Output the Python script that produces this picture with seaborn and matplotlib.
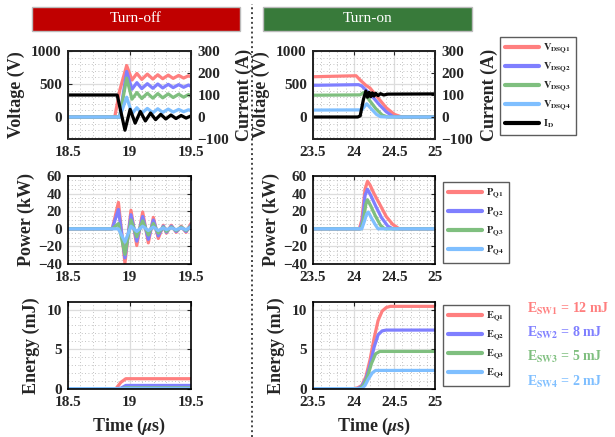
import numpy as np
import pandas as pd
import matplotlib
matplotlib.use('Agg')
import matplotlib.pyplot as plt
import seaborn as sns
from matplotlib.lines import Line2D
from matplotlib.patches import Rectangle
from matplotlib.ticker import MultipleLocator

# ---------------- data ----------------
# Turn-off: drain-source voltages (V)
t_off_v = [18.5, 18.88, 18.92, 18.977, 19.02, 19.06, 19.10, 19.145, 19.19, 19.23,
           19.27, 19.315, 19.355, 19.40, 19.44, 19.48, 19.5]
v1_off = [0, 0, 400, 780, 560, 660, 570, 650, 575, 640, 580, 635, 585, 630, 590, 625, 610]
v2_off = [0, 0, 0, 690, 420, 520, 430, 505, 435, 500, 440, 495, 445, 490, 450, 485, 465]
v3_off = [0, 0, 0, 590, 270, 370, 280, 360, 285, 355, 290, 350, 295, 345, 300, 340, 320]
v4_off = [0, 0, 0, 300, 50, 140, 60, 130, 65, 125, 70, 120, 75, 115, 80, 110, 95]
# Turn-off: drain current (A)
t_off_i = [18.5, 18.90, 18.963, 19.005, 19.046, 19.088, 19.129, 19.171, 19.212, 19.254,
           19.295, 19.337, 19.378, 19.42, 19.46, 19.5]
id_off = [100, 100, -60, 35, -28, 25, -18, 18, -12, 12, -9, 9, -7, 7, -5, 5]
# Turn-off: power (kW)
t_off_p = [18.5, 18.86, 18.91, 18.963, 19.012, 19.059, 19.107, 19.153, 19.194, 19.234,
           19.275, 19.30, 19.34, 19.38, 19.42, 19.46, 19.5]
p1_off = [0, 0, 30, -39, 21, -19, 19, -16, 13, -11, 4, -5, 4, -4, 3, -4, 6]
p2_off = [0, 0, 22, -33, 16, -14, 14, -12, 10, -8, 3, -4, 3, -3, 2, -3, 4]
p3_off = [0, 0, 6, -29, 10, -9, 9, -7, 6, -5, 2, -3, 2, -2, 2, -2, 3]
p4_off = [0, 0, 0, -15, 3, -3, 3, -2, 2, -2, 1, -1, 1, -1, 1, -1, 2]
# Turn-off: energy (mJ)
t_off_e = [18.5, 18.89, 18.93, 18.97, 19.5]
e1_off = [0, 0, 0.8, 1.25, 1.25]
e2_off = [0, 0, 0.05, 0.4, 0.4]
e3_off = [0, 0, 0, 0.1, 0.1]
e4_off = [0, 0, 0, 0.02, 0.02]

# Turn-on: voltages (V)
t_on_v1 = [23.5, 24.03, 24.08, 24.15, 24.20, 24.30, 24.40, 24.50, 24.58, 24.65, 25.0]
v1_on = [610, 625, 560, 480, 440, 290, 140, 40, 5, 0, 0]
t_on_v2 = [23.5, 24.06, 24.10, 24.15, 24.23, 24.32, 24.40, 24.48, 24.55, 25.0]
v2_on = [480, 490, 470, 410, 310, 180, 80, 10, 0, 0]
t_on_v3 = [23.5, 24.08, 24.12, 24.19, 24.27, 24.35, 24.42, 25.0]
v3_on = [330, 335, 370, 260, 130, 30, 0, 0]
t_on_v4 = [23.5, 24.10, 24.16, 24.22, 24.28, 24.33, 24.40, 25.0]
v4_on = [105, 108, 200, 120, 40, 5, 0, 0]
# Turn-on: drain current (A)
t_on_i = [23.5, 24.05, 24.08, 24.12, 24.15, 24.17, 24.19, 24.21, 24.23, 24.25, 24.27,
          24.30, 24.33, 24.37, 24.42, 25.0]
id_on = [0, 0, 5, 80, 118, 90, 112, 92, 110, 95, 108, 97, 106, 100, 104, 105]
# Turn-on: power (kW)
t_on_p1 = [23.5, 24.07, 24.10, 24.14, 24.17, 24.20, 24.25, 24.32, 24.40, 24.48, 24.56, 25.0]
p1_on = [0, 0, 10, 45, 54, 50, 40, 28, 14, 5, 0, 0]
t_on_p2 = [23.5, 24.08, 24.11, 24.14, 24.17, 24.21, 24.27, 24.34, 24.42, 24.48, 25.0]
p2_on = [0, 0, 10, 38, 45, 38, 26, 13, 3, 0, 0]
t_on_p3 = [23.5, 24.09, 24.12, 24.15, 24.17, 24.21, 24.27, 24.33, 24.38, 25.0]
p3_on = [0, 0, 10, 28, 33, 26, 14, 4, 0, 0]
t_on_p4 = [23.5, 24.10, 24.13, 24.16, 24.18, 24.22, 24.27, 24.30, 25.0]
p4_on = [0, 0, 8, 17, 19, 12, 4, 0, 0]
# Turn-on: energy (mJ)
t_on_e1 = [23.5, 24.0, 24.05, 24.10, 24.15, 24.20, 24.25, 24.30, 24.35, 24.40, 24.45, 25.0]
e1_on = [0, 0, 0.1, 0.4, 1.5, 3.6, 6.3, 8.6, 9.8, 10.25, 10.4, 10.4]
t_on_e2 = [23.5, 24.05, 24.10, 24.15, 24.20, 24.25, 24.30, 24.35, 24.40, 25.0]
e2_on = [0, 0, 0.3, 1.2, 2.9, 5.2, 6.8, 7.3, 7.4, 7.4]
t_on_e3 = [23.5, 24.07, 24.12, 24.17, 24.22, 24.27, 24.32, 25.0]
e3_on = [0, 0, 0.4, 1.5, 3.2, 4.4, 4.7, 4.7]
t_on_e4 = [23.5, 24.10, 24.14, 24.18, 24.23, 24.27, 25.0]
e4_on = [0, 0, 0.4, 1.2, 2.0, 2.3, 2.3]

# labels / ticks
v_labels = [r'$\mathbf{V_{DSQ1}}$', r'$\mathbf{V_{DSQ2}}$', r'$\mathbf{V_{DSQ3}}$',
            r'$\mathbf{V_{DSQ4}}$', r'$\mathbf{I_{D}}$']
p_labels = [r'$\mathbf{P_{Q1}}$', r'$\mathbf{P_{Q2}}$', r'$\mathbf{P_{Q3}}$', r'$\mathbf{P_{Q4}}$']
e_labels = [r'$\mathbf{E_{Q1}}$', r'$\mathbf{E_{Q2}}$', r'$\mathbf{E_{Q3}}$', r'$\mathbf{E_{Q4}}$']
esw_labels = [r'E$_\mathbf{SW1}$ = 12 mJ', r'E$_\mathbf{SW2}$ = 8 mJ',
              r'E$_\mathbf{SW3}$ = 5 mJ', r'E$_\mathbf{SW4}$ = 2 mJ']
xt_off = [18.5, 19, 19.5]
xt_off_lab = ['18.5', '19', '19.5']
xt_on = [23.5, 24, 24.5, 25]
xt_on_lab = ['23.5', '24', '24.5', '25']
v_ticks = [0, 500, 1000]
i_ticks = [-100, 0, 100, 200, 300]
p_ticks = [-40, -20, 0, 20, 40, 60]
e_ticks = [0, 5, 10]
headers = ['Turn-off', 'Turn-on']

# ---------------- style ----------------
sns.set_style('white')
plt.rcParams['font.family'] = ['Liberation Serif', 'DejaVu Serif']
plt.rcParams['font.weight'] = 'bold'
plt.rcParams['axes.labelweight'] = 'bold'
plt.rcParams['mathtext.fontset'] = 'stix'

colors = ['#FF7F7F', '#7F7FFF', '#7FBF7F', '#7FBFFF']
LW = 2.3
FW, FH = 615, 437

fig = plt.figure(figsize=(6.15, 4.37), dpi=100)


def rect(x0, x1, y0, y1):
    return [x0 / FW, 1 - y1 / FH, (x1 - x0) / FW, (y1 - y0) / FH]


def style(ax, xlim, xt, xtl, xminor, ylim, yt, yminor, right=True):
    ax.set_xlim(xlim)
    ax.set_ylim(ylim)
    ax.set_xticks(xt)
    ax.set_xticklabels(xtl)
    ax.set_yticks(yt)
    ax.xaxis.set_minor_locator(MultipleLocator(xminor))
    ax.yaxis.set_minor_locator(MultipleLocator(yminor))
    ax.grid(which='major', color='#dddddd', lw=0.9, ls='-')
    ax.grid(which='minor', color='#b0b0b0', lw=0.6, ls=(0, (1, 3)))
    ax.set_axisbelow(True)
    ax.tick_params(which='major', direction='in', top=True, right=right,
                   labelsize=11, length=3, width=0.8)
    ax.tick_params(axis='x', which='major', pad=5)
    ax.tick_params(axis='y', which='major', pad=4.5)
    ax.tick_params(which='minor', length=0)
    for s in ax.spines.values():
        s.set_color('black')
        s.set_linewidth(1.2)
    ax.set_xlabel('')
    ax.set_ylabel('')


def draw(ax, t, y, c, lw=LW):
    sns.lineplot(x=t, y=y, ax=ax, color=c, linewidth=lw, legend=False, sort=False)
    return ax.get_lines()[-1]


cols = [(68, 191, (18.5, 19.5), xt_off, xt_off_lab),
        (313, 435, (23.5, 25.0), xt_on, xt_on_lab)]

volt_sets = [[(t_off_v, v1_off), (t_off_v, v2_off), (t_off_v, v3_off), (t_off_v, v4_off)],
             [(t_on_v1, v1_on), (t_on_v2, v2_on), (t_on_v3, v3_on), (t_on_v4, v4_on)]]
cur_sets = [(t_off_i, id_off), (t_on_i, id_on)]
pow_sets = [[(t_off_p, p1_off), (t_off_p, p2_off), (t_off_p, p3_off), (t_off_p, p4_off)],
            [(t_on_p1, p1_on), (t_on_p2, p2_on), (t_on_p3, p3_on), (t_on_p4, p4_on)]]
en_sets = [[(t_off_e, e1_off), (t_off_e, e2_off), (t_off_e, e3_off), (t_off_e, e4_off)],
           [(t_on_e1, e1_on), (t_on_e2, e2_on), (t_on_e3, e3_on), (t_on_e4, e4_on)]]

handles = {}
for ci, (x0, x1, xlim, xt, xtl) in enumerate(cols):
    # voltage / current
    ax = fig.add_axes(rect(x0, x1, 51, 139))
    hv = [draw(ax, t, v, c) for (t, v), c in zip(volt_sets[ci], colors)]
    style(ax, xlim, xt, xtl, 0.1, (-1000 / 3, 1000), v_ticks, 100, right=False)
    ax.set_ylabel('Voltage (V)', fontsize=13)
    ax.yaxis.set_label_coords(-0.35, 0.5)
    ax2 = ax.twinx()
    hi = draw(ax2, cur_sets[ci][0], cur_sets[ci][1], 'black')
    ax2.set_ylim(-100, 300)
    ax2.set_yticks(i_ticks)
    ax2.tick_params(direction='in', labelsize=11, length=3, width=0.8, pad=4.5)
    ax2.set_ylabel('Current (A)', fontsize=13)
    ax2.yaxis.set_label_coords(1.36 if ci == 0 else 1.377, 0.5)
    for s in ax2.spines.values():
        s.set_linewidth(1.2)
    ax2.grid(False)
    handles[('v', ci)] = hv + [hi]

    # power
    axp = fig.add_axes(rect(x0, x1, 176, 264))
    hp = [draw(axp, t, p, c) for (t, p), c in zip(pow_sets[ci], colors)]
    style(axp, xlim, xt, xtl, 0.1, (-40, 60), p_ticks, 5)
    axp.set_ylabel('Power (kW)', fontsize=13)
    axp.yaxis.set_label_coords(-0.27, 0.5)
    handles[('p', ci)] = hp

    # energy
    axe = fig.add_axes(rect(x0, x1, 302, 389))
    he = [draw(axe, t, e, c) for (t, e), c in zip(en_sets[ci], colors)]
    style(axe, xlim, xt, xtl, 0.1, (-0.05, 10.95), e_ticks, 1)
    axe.set_ylabel('Energy (mJ)', fontsize=13)
    axe.yaxis.set_label_coords(-0.23, 0.5)
    axe.set_xlabel(r'Time ($\mu$s)', fontsize=13)
    axe.xaxis.set_label_coords(0.5, -0.31)
    handles[('e', ci)] = he

# legends
leg_kw = dict(loc='upper left', bbox_transform=fig.transFigure, frameon=True,
              fancybox=False, edgecolor='#333333', fontsize=7.5, handlelength=3.3,
              labelspacing=0.45, handletextpad=0.4, borderpad=0.45, borderaxespad=0)
fig.legend(handles[('v', 1)], v_labels, bbox_to_anchor=(500 / FW, 1 - 37 / FH), **leg_kw)
fig.legend(handles[('p', 1)], p_labels, bbox_to_anchor=(443 / FW, 1 - 182 / FH), **leg_kw)
fig.legend(handles[('e', 1)], e_labels, bbox_to_anchor=(443 / FW, 1 - 305 / FH), **leg_kw)
for lgd in fig.legends:
    lgd.get_frame().set_linewidth(1.0)
    for ln in lgd.get_lines():
        ln.set_linewidth(3.0)

# energy annotations
for lab, c, yp in zip(esw_labels, colors, [309, 333, 357, 382]):
    fig.text(527 / FW, 1 - yp / FH, lab, color=c, fontsize=10, fontweight='bold',
             ha='left', va='center')

# header boxes
for (hx0, hx1, fc), txt in zip([(32, 240, '#C00000'), (263, 472, '#387A3A')], headers):
    fig.add_artist(Rectangle((hx0 / FW, 1 - 31 / FH), (hx1 - hx0) / FW, 24 / FH,
                             transform=fig.transFigure, facecolor=fc,
                             edgecolor='#bbbbbb', lw=1))
    fig.text((hx0 + hx1) / 2 / FW, 1 - 19 / FH, txt, color='white', fontsize=11,
             fontweight='normal', ha='center', va='center')

# dotted separator
fig.add_artist(Line2D([252 / FW, 252 / FW], [0, 0.99], transform=fig.transFigure,
                      color='#444444', lw=1.4, ls=(0, (1, 1.5))))

fig.savefig('out.png', dpi=100)
